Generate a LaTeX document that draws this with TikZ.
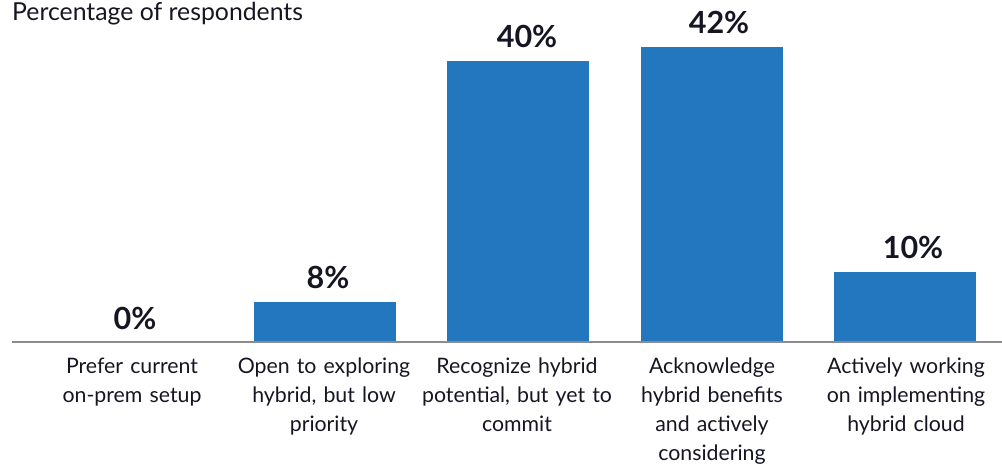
\documentclass[tikz,border=0pt]{standalone}
\usepackage{fontspec}
\setmainfont{Lato}
\definecolor{barblue}{RGB}{35,119,190}
\definecolor{txt}{RGB}{22,22,35}
\definecolor{axisgray}{RGB}{140,140,140}
\begin{document}
\begin{tikzpicture}[x=1pt,y=-1pt,
  bar/.style={fill=barblue,draw=none},
  pct/.style={anchor=base,inner sep=0pt,text=txt,font=\fontsize{30.5}{34}\selectfont\bfseries},
  cat/.style={anchor=base,inner sep=0pt,text=txt,align=center,text width=192pt,font=\fontsize{21.3}{29.3}\selectfont},
  axisline/.style={draw=axisgray,line width=2pt}]
\useasboundingbox (0,0) rectangle (1002,465);
\node[anchor=base west,inner sep=0pt,text=txt,font=\fontsize{24.8}{28}\selectfont] (title) at (12,21) {Percentage of respondents};
% bars
\path[bar] (254,302) rectangle (396,343);
\path[bar] (447,61) rectangle (589,343);
\path[bar] (641,47) rectangle (783,343);
\path[bar] (834,272) rectangle (976,343);
\coordinate (a0) at (12,342);
\coordinate (a1) at (1002,342);
\draw[axisline] (a0) -- (a1);
% percentages
\node[pct] (p0) at (135,329) {0\%};
\node[pct] (p1) at (328,289) {8\%};
\node[pct] (p2) at (527,48) {40\%};
\node[pct] (p3) at (719,34) {42\%};
\node[pct] (p4) at (913,259) {10\%};
% categories
\node[cat] (c0) at (132,373) {Prefer current\\on-prem setup};
\node[cat] (c1) at (324,373) {Open to exploring\\hybrid, but low\\priority};
\node[cat] (c2) at (517,373) {Recognize hybrid\\potential, but yet to\\commit};
\node[cat] (c3) at (712,373) {Acknowledge\\hybrid benefits\\and actively\\considering};
\node[cat] (c4) at (906,373) {Actively working\\on implementing\\hybrid cloud};
\end{tikzpicture}
\end{document}
